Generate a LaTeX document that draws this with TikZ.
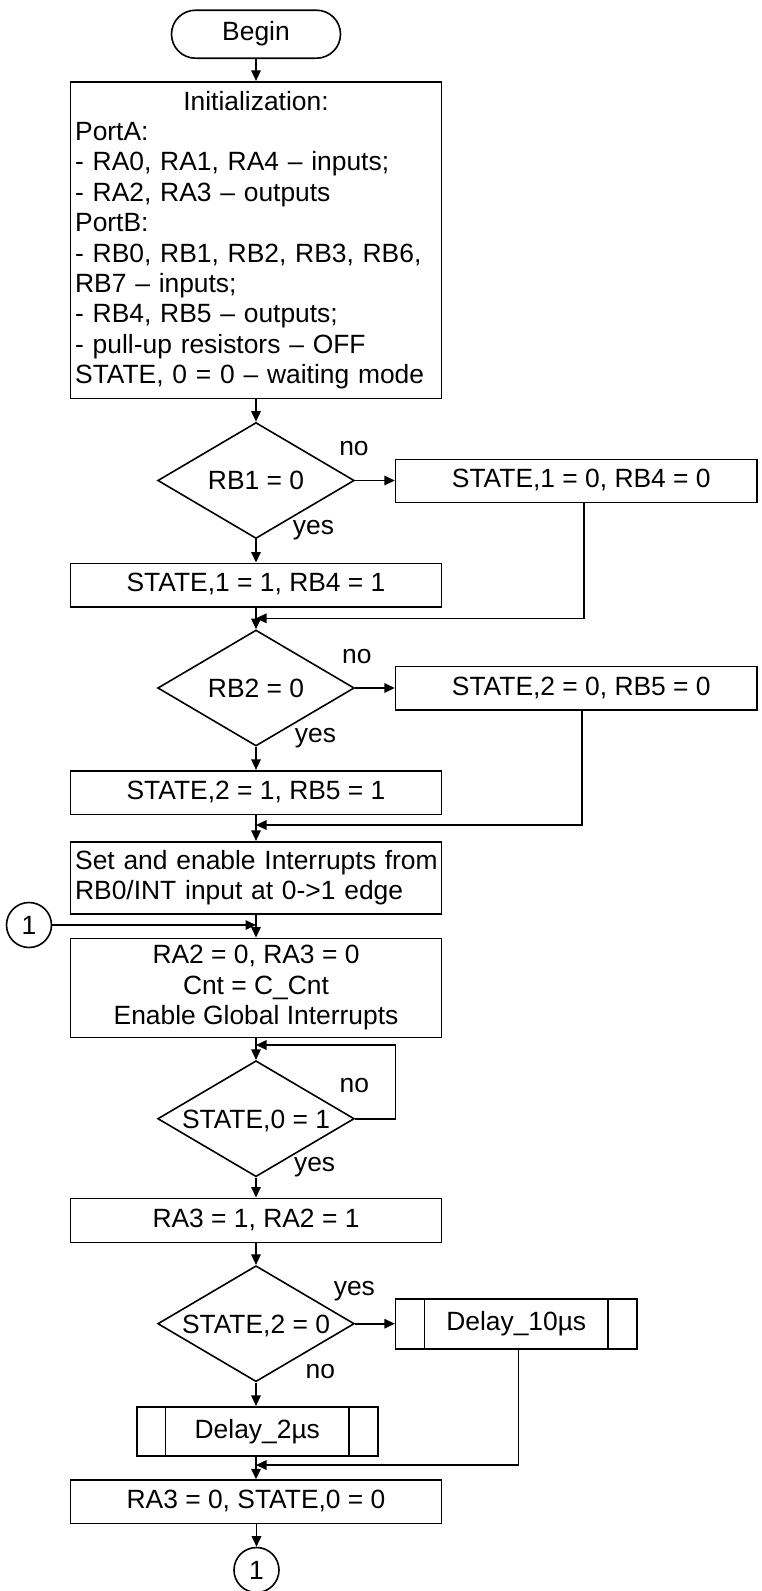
\documentclass[tikz,border=0pt]{standalone}
\usepackage{fontspec}
\setmainfont{Liberation Sans}
\usetikzlibrary{shapes.geometric,arrows.meta,calc}
\begin{document}
\begin{tikzpicture}[x=1pt,y=-1pt,
  every node/.style={font=\fontsize{26.4}{30.4}\selectfont},
  line/.style={draw, line width=1.6pt},
  arr/.style={line, -{Triangle[length=10.5pt,width=9.5pt]}},
  pbox/.style={draw, line width=1.6pt, rectangle, inner sep=0pt, text height=18.9pt, text depth=5.5pt},
  mbox/.style={draw, line width=1.6pt, rectangle, inner ysep=0pt},
  term/.style={pbox, rounded corners=24pt, minimum width=169pt, minimum height=48pt},
  dec/.style={draw, line width=1.6pt, diamond, inner sep=0pt, minimum width=196.6pt, minimum height=116pt, text height=18.9pt, text depth=0pt},
  conn/.style={draw, line width=1.6pt, circle, inner sep=0pt, minimum size=45pt},
  lab/.style={anchor=base, inner sep=0pt}
]
\useasboundingbox (0,0) rectangle (761,1591);

% nodes
\node[term] (begin) at (256,34.2) {Begin};
\node[mbox, minimum width=371.3pt, minimum height=316.6pt, text width=361.7pt, align=left, inner xsep=4.8pt] (init) at (256,240)
 {\hfill Initialization:\hfill\null\\
  PortA:\\
  - RA0, RA1, RA4 – inputs;\\
  - RA2, RA3 – outputs\\
  PortB:\\
  - RB0, RB1, RB2, RB3, RB6,\\
  RB7 – inputs;\\
  - RB4, RB5 – outputs;\\
  - pull-up resistors – OFF\\
  \makebox[\linewidth][l]{STATE, 0 = 0 – waiting mode}};

\node[dec] (d1) at (256,480.5) {\makebox[0pt]{RB1 = 0}};
\node[pbox, minimum width=361.4pt, minimum height=43pt] (r1) at (576.3,480.8) {\hspace*{10pt}STATE,1 = 0, RB4 = 0};
\node[pbox, minimum width=371.3pt, minimum height=43.4pt] (b1) at (256,585) {STATE,1 = 1, RB4 = 1};

\node[dec] (d2) at (256,688) {\makebox[0pt]{RB2 = 0}};
\node[pbox, minimum width=361.4pt, minimum height=43.3pt] (r2) at (576.3,688.3) {\hspace*{10pt}STATE,2 = 0, RB5 = 0};
\node[pbox, minimum width=371.3pt, minimum height=43.6pt] (b2) at (256,792.5) {STATE,2 = 1, RB5 = 1};

\node[mbox, minimum width=371.3pt, minimum height=72.3pt, text width=361.7pt, align=left, inner xsep=4.8pt] (setb) at (256,877.85)
 {\makebox[\linewidth][l]{Set and enable Interrupts from}\\ RB0/INT input at 0->1 edge};

\node[conn] (c1) at (29,925) {1};
\node[mbox, minimum width=371.3pt, minimum height=99pt, align=center, inner xsep=0pt] (ra2) at (256,987.8)
 {RA2 = 0, RA3 = 0\\ Cnt = C\_Cnt\\ Enable Global Interrupts};

\node[dec] (d3) at (256,1118.7) {\makebox[0pt]{STATE,0 = 1}};
\node[pbox, minimum width=371.3pt, minimum height=44pt] (b3) at (256,1220.3) {RA3 = 1, RA2 = 1};

\node[dec] (d4) at (256,1323.7) {\makebox[0pt]{STATE,2 = 0}};
\node[pbox, minimum width=241.3pt, minimum height=50pt] (d10) at (516.25,1324) {Delay\_10µs};
\node[pbox, minimum width=240.8pt, minimum height=49.3pt] (d2u) at (257.3,1431.35) {Delay\_2µs};
\node[pbox, minimum width=370.9pt, minimum height=43.3pt] (b4) at (256,1501.7) {RA3 = 0, STATE,0 = 0};
\node[conn] (c2) at (256.5,1570) {1};

% subroutine side bars
\draw[line] ([xshift=29.5pt]d10.north west) -- ([xshift=29.5pt]d10.south west);
\draw[line] ([xshift=-29.5pt]d10.north east) -- ([xshift=-29.5pt]d10.south east);
\draw[line] ([xshift=29.5pt]d2u.north west) -- ([xshift=29.5pt]d2u.south west);
\draw[line] ([xshift=-29.5pt]d2u.north east) -- ([xshift=-29.5pt]d2u.south east);

% labels
\node[lab] (n1) at (354,455) {no};
\node[lab] (y1) at (313.5,534.5) {yes};
\node[lab] (n2) at (356.8,663) {no};
\node[lab] (y2) at (315.5,742) {yes};
\node[lab] (n3) at (354.4,1092) {no};
\node[lab] (y3) at (314.6,1171) {yes};
\node[lab] (y4) at (354.4,1295) {yes};
\node[lab] (n4) at (320.4,1378.6) {no};

% coordinates
\coordinate (m1) at (256,618.3);
\coordinate (m2) at (256,825);
\coordinate (lp) at (256,1045);
\coordinate (lr) at (395.6,1118.7);
\coordinate (m4) at (256,1465);
\coordinate (r1b) at ([xshift=189.4pt]r1.south west);
\coordinate (r2b) at ([xshift=186.9pt]r2.south west);
\coordinate (d10b) at ([xshift=123.8pt]d10.south west);

% main column
\draw[arr] (begin.south) -- (init.north);
\draw[arr] (init.south) -- (d1.north);
\draw[arr] (d1.south) -- (b1.north);
\draw[arr] (b1.south) -- (d2.north);
\draw[arr] (d2.south) -- (b2.north);
\draw[arr] (b2.south) -- (setb.north);
\draw[arr] (setb.south) -- (ra2.north);
\draw[arr] (ra2.south) -- (d3.north);
\draw[arr] (d3.south) -- (b3.north);
\draw[arr] (b3.south) -- (d4.north);
\draw[arr] (d4.south) -- (d2u.north -| d4.south);
\draw[arr] (d2u.south -| d4.south) -- (b4.north -| d4.south);
\draw[arr] (b4.south -| c2.north) -- (c2.north);

% branches
\draw[arr] (d1.east) -- (r1.west |- d1.east);
\draw[arr] (r1b) |- (m1);
\draw[arr] (d2.east) -- (r2.west |- d2.east);
\draw[arr] (r2b) |- (m2);
\draw[arr] (c1.east) -- (c1.east -| setb.south);
\draw[arr] (d3.east) -- (lr) |- (lp);
\draw[arr] (d4.east) -- (d10.west |- d4.east);
\draw[arr] (d10b) |- (m4);
\end{tikzpicture}
\end{document}
